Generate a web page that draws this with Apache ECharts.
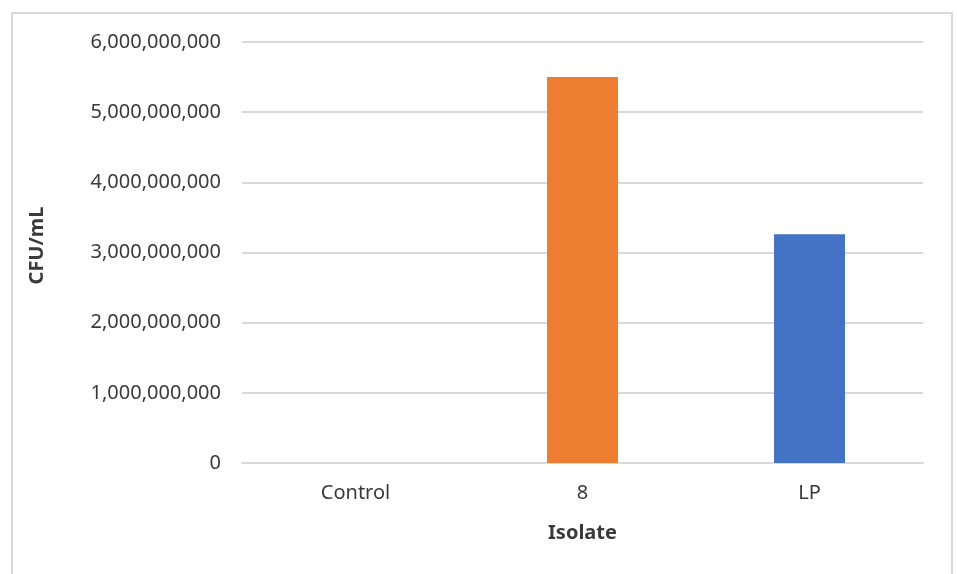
<!DOCTYPE html>
<html>
<head>
<meta charset="utf-8">
<script src="https://cdn.jsdelivr.net/npm/echarts@6/dist/echarts.min.js"></script>
<style>
  html, body { margin: 0; padding: 0; background: #ffffff; }
  #chart { width: 957px; height: 574px; }
</style>
</head>
<body>
<div id="chart"></div>
<script>
// Bacterial counts per isolate
const categories = ['Control', '8', 'LP'];
const cfuValues = [0, 5500000000, 3260000000];
const barColors = ['#4472C4', '#ED7D31', '#4472C4'];
const yTicks = [0, 1000000000, 2000000000, 3000000000, 4000000000, 5000000000, 6000000000];

const FONT = '"Noto Sans", sans-serif';
const TEXT = '#3a3a3a';

const chart = echarts.init(document.getElementById('chart'), null, { renderer: 'canvas' });

chart.setOption({
  animation: false,
  backgroundColor: '#ffffff',
  graphic: [{
    type: 'rect',
    shape: { x: 12, y: 13, width: 940, height: 620 },
    style: { fill: 'none', stroke: '#d9d9d9', lineWidth: 2 },
    silent: true
  }],
  grid: { left: 242, right: 34, top: 42, bottom: 111, containLabel: false },
  xAxis: {
    type: 'category',
    data: categories,
    name: 'Isolate',
    nameLocation: 'middle',
    nameGap: 60,
    nameTextStyle: { fontFamily: FONT, fontSize: 20, fontWeight: 'bold', color: TEXT },
    axisLine: { show: true, lineStyle: { color: '#d9d9d9', width: 2 } },
    axisTick: { show: false },
    axisLabel: { fontFamily: FONT, fontSize: 20, color: TEXT, margin: 20 }
  },
  yAxis: {
    type: 'value',
    min: yTicks[0],
    max: yTicks[yTicks.length - 1],
    interval: yTicks[1] - yTicks[0],
    name: 'CFU/mL',
    nameLocation: 'middle',
    nameGap: 195,
    nameRotate: 90,
    nameTextStyle: {
      fontFamily: FONT, fontSize: 20, fontWeight: 'bold', color: TEXT,
      padding: [0, 0, 0, 14]
    },
    axisLine: { show: false },
    axisTick: { show: false },
    splitLine: { lineStyle: { color: '#d9d9d9', width: 2 } },
    axisLabel: {
      fontFamily: FONT, fontSize: 20, color: TEXT, margin: 21,
      formatter: v => v.toLocaleString('en-US')
    }
  },
  series: [{
    type: 'bar',
    data: cfuValues.map((v, i) => ({ value: v, itemStyle: { color: barColors[i] } })),
    barWidth: 71
  }]
});
</script>
</body>
</html>
